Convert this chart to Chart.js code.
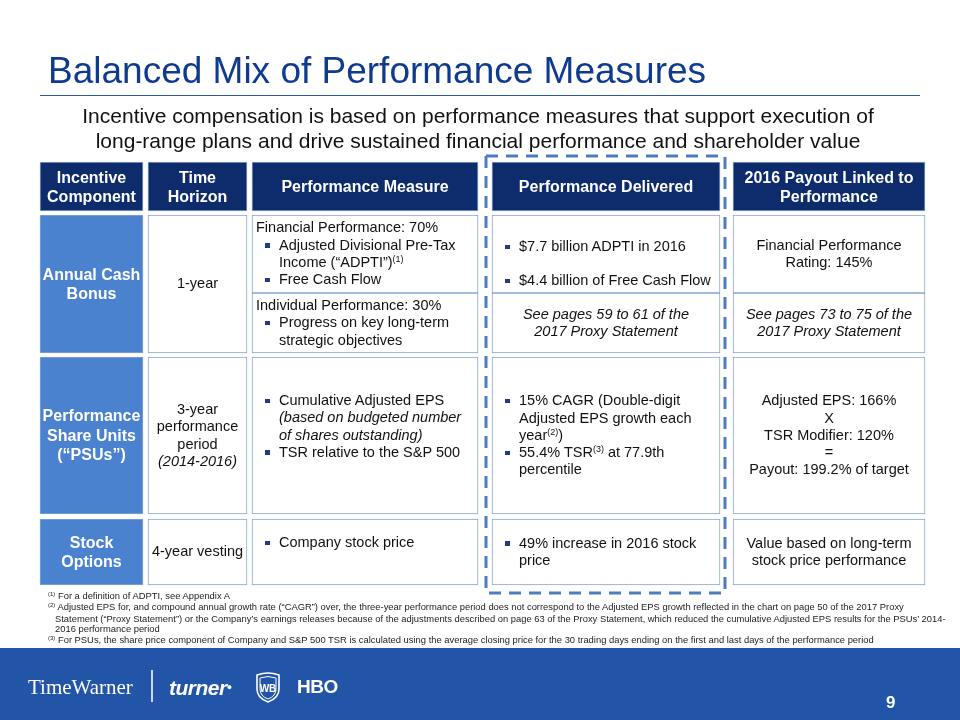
<!DOCTYPE html>
<html>
<head>
<meta charset="utf-8">
<title>Balanced Mix of Performance Measures</title>
<script src="https://cdn.jsdelivr.net/npm/chart.js@4.4.1/dist/chart.umd.min.js"></script>
<style>
  body { margin: 0; background: #fff; }
  #slide { position: relative; width: 960px; height: 720px; overflow: hidden;
           font-family: "Liberation Sans", Arial, Helvetica, sans-serif; color: #111; }
  #tableChart { position: absolute; left: 0; top: 0; }
  #title { position: absolute; left: 48px; top: 52px; font-size: 37px; line-height: 37px; color: #0E3B8F; white-space: nowrap; }
  #rule { position: absolute; left: 40px; top: 95px; width: 880px; height: 1.4px; background: #2B57A0; }
  #subtitle { position: absolute; left: 0; width: 956px; top: 103px; text-align: center; font-size: 21px; line-height: 25px; color: #111; white-space: nowrap; }
  .cell { position: absolute; display: flex; flex-direction: column; justify-content: center; box-sizing: border-box;
          font-size: 14.5px; line-height: 17.3px; }
  .cell.top { justify-content: flex-start; }
  .cell.c { text-align: center; align-items: center; }
  .hdr { color: #fff; font-weight: bold; font-size: 16px; line-height: 19px; }
  .comp { color: #fff; font-weight: bold; font-size: 16px; line-height: 19.5px; }
  .lead { padding-left: 4px; white-space: nowrap; }
  .b { position: relative; padding-left: 27px; white-space: nowrap; }
  .b::before { content: ""; position: absolute; left: 13px; top: 6.5px; width: 4.5px; height: 4.5px; background: #1D3C85; }
  .gap .b + .b { margin-top: 17px; }
  .cell sup { font-size: 9px; line-height: 0; vertical-align: 5px; }
  .fn { position: absolute; font-size: 9.4px; line-height: 11px; color: #222; white-space: nowrap; }
  .fn sup { font-size: 6px; line-height: 0; vertical-align: 3px; }
  #band { position: absolute; left: 0; top: 648px; width: 960px; height: 72px; background: #2254A8; }
  .logo { position: absolute; color: #fff; white-space: nowrap; }
  #page { position: absolute; left: 886px; top: 693px; color: #fff; font-weight: bold; font-size: 17px; line-height: 20px; }
</style>
</head>
<body>
<div id="slide">
  <canvas id="tableChart" width="960" height="720"></canvas>
  <div id="title">Balanced Mix of Performance Measures</div>
  <div id="rule"></div>
  <div id="subtitle">Incentive compensation is based on performance measures that support execution of<br>long-range plans and drive sustained financial performance and shareholder value</div>
  <div id="cells"></div>
  <div id="notes"></div>
  <div id="band"></div>
  <div class="logo" style="left:28px;top:674px;font-family:'Liberation Serif','DejaVu Serif',serif;font-size:21px;line-height:26px;">TimeWarner</div>
  <div class="logo" style="left:151px;top:670px;width:1.5px;height:32px;background:#c9d6ee;"></div>
  <div class="logo" style="left:169px;top:675px;font-weight:bold;font-style:italic;font-size:21px;line-height:24px;letter-spacing:-0.5px;">turner<span style="font-size:9px;vertical-align:5px;">&#9679;</span></div>
  <svg class="logo" style="left:254px;top:672px;" width="28" height="32" viewBox="0 0 28 32">
    <path d="M3 3 Q14 -1 25 3 L25 17 Q25 26 14 30 Q3 26 3 17 Z" fill="none" stroke="#fff" stroke-width="1.6"/>
    <path d="M6 6 Q14 3 22 6 L22 17 Q22 24 14 27 Q6 24 6 17 Z" fill="none" stroke="#fff" stroke-width="1"/>
    <text x="14" y="20" text-anchor="middle" fill="#fff" font-size="10" font-weight="bold" font-family="Liberation Sans, Arial, sans-serif">WB</text>
  </svg>
  <div class="logo" style="left:297px;top:676px;font-weight:bold;font-size:19px;line-height:22px;letter-spacing:-0.5px;">HBO</div>
  <div id="page">9</div>
</div>
<script>
// table text, column by column
const headers = ['Incentive<br>Component', 'Time<br>Horizon', 'Performance Measure', 'Performance Delivered', '2016 Payout Linked to<br>Performance'];
const components = ['Annual Cash<br>Bonus', 'Performance<br>Share Units<br>(“PSUs”)', 'Stock<br>Options'];
const horizons = ['1-year', '3-year<br>performance<br>period<br><i>(2014-2016)</i>', '4-year vesting'];
const measures = [
  { lead: 'Financial Performance: 70%', bullets: ['Adjusted Divisional Pre-Tax<br>Income (“ADPTI”)<sup>(1)</sup>', 'Free Cash Flow'] },
  { lead: 'Individual Performance: 30%', bullets: ['Progress on key long-term<br>strategic objectives'] },
  { bullets: ['Cumulative Adjusted EPS<br><i>(based on budgeted number<br>of shares outstanding)</i>', 'TSR relative to the S&amp;P 500'] },
  { bullets: ['Company stock price'] }
];
const delivered = [
  { bullets: ['$7.7 billion ADPTI in 2016', '$4.4 billion of Free Cash Flow'] },
  { text: '<i>See pages 59 to 61 of the<br>2017 Proxy Statement</i>' },
  { bullets: ['15% CAGR (Double-digit<br>Adjusted EPS growth each<br>year<sup>(2)</sup>)', '55.4% TSR<sup>(3)</sup> at 77.9th<br>percentile'] },
  { bullets: ['49% increase in 2016 stock<br>price'] }
];
const payouts = [
  { text: 'Financial Performance<br>Rating: 145%' },
  { text: '<i>See pages 73 to 75 of the<br>2017 Proxy Statement</i>' },
  { text: 'Adjusted EPS: 166%<br>X<br>TSR Modifier: 120%<br>=<br>Payout: 199.2% of target' },
  { text: 'Value based on long-term<br>stock price performance' }
];
const footnotes = [
  ['<sup>(1)</sup> For a definition of ADPTI, see Appendix A', 0],
  ['<sup>(2)</sup> Adjusted EPS for, and compound annual growth rate (“CAGR”) over, the three-year performance period does not correspond to the Adjusted EPS growth reflected in the chart on page 50 of the 2017 Proxy', 0],
  ['Statement (“Proxy Statement”) or the Company’s earnings releases because of the adjustments described on page 63 of the Proxy Statement, which reduced the cumulative Adjusted EPS results for the PSUs’ 2014-', 1],
  ['2016 performance period', 1],
  ['<sup>(3)</sup> For PSUs, the share price component of Company and S&amp;P 500 TSR is calculated using the average closing price for the 30 trading days ending on the first and last days of the performance period', 0]
];

// layout in page pixels
const cols = [[40, 143], [148, 247], [252, 478], [492, 720], [733, 925]];
const headRow = [162, 211];
const rows = [[215, 353], [357, 514], [519, 585]];
const splitY = 293;
const frame = { left: 486, right: 725, top: 156, bottom: 593 };

const NAVY = '#0E2C6B';
const BLUE = '#4A82CF';
const LINE = '#88A5D1';

function spansFor(i) {
  if (i < 2) return [headRow, rows[0], rows[1], rows[2]];
  return [headRow, [rows[0][0], splitY], [splitY, rows[0][1]], rows[1], rows[2]];
}

let datasets = cols.map(function(c, i) {
  let spans = spansFor(i);
  return {
    type: 'bar',
    data: spans.map(s => ({ x: (c[0] + c[1]) / 2, y: [s[0], s[1]] })),
    barThickness: c[1] - c[0],
    backgroundColor: spans.map((s, k) => k === 0 ? NAVY : (i === 0 ? BLUE : '#ffffff')),
    borderColor: LINE,
    borderWidth: 1,
    borderSkipped: false,
    stack: 'table'
  };
});

// dashed box round the "Performance Delivered" column
datasets.unshift({
  type: 'line',
  data: [
    { x: frame.left, y: frame.top }, { x: frame.right, y: frame.top },
    { x: frame.right, y: frame.bottom }, { x: frame.left, y: frame.bottom },
    { x: frame.left, y: frame.top }
  ],
  borderColor: '#4D7DC1',
  borderWidth: 3,
  borderDash: [12, 8],
  pointRadius: 0,
  fill: false,
  tension: 0
});

new Chart(document.getElementById('tableChart'), {
  type: 'bar',
  data: { datasets: datasets },
  options: {
    responsive: false,
    animation: false,
    events: [],
    layout: { padding: 0 },
    plugins: { legend: { display: false }, tooltip: { enabled: false }, title: { display: false } },
    scales: {
      x: { type: 'linear', min: 0, max: 960, offset: false, display: false },
      y: { type: 'linear', min: 0, max: 720, reverse: true, stacked: false, display: false }
    }
  }
});

// text on top of the cells
let cellsBox = document.getElementById('cells');

function addCell(col, span, html, cls, style) {
  let d = document.createElement('div');
  d.className = 'cell ' + (cls || '');
  d.style.left = col[0] + 'px';
  d.style.width = (col[1] - col[0]) + 'px';
  d.style.top = span[0] + 'px';
  d.style.height = (span[1] - span[0]) + 'px';
  if (style) d.style.cssText += style;
  d.innerHTML = html;
  cellsBox.appendChild(d);
}

function cellHtml(item) {
  if (item.text) return '<div>' + item.text + '</div>';
  let h = '';
  if (item.lead) h += '<div class="lead">' + item.lead + '</div>';
  h += item.bullets.map(b => '<div class="b">' + b + '</div>').join('');
  return h;
}

headers.forEach((h, i) => addCell(cols[i], headRow, '<div>' + h + '</div>', 'c hdr'));
components.forEach((h, r) => addCell(cols[0], rows[r], '<div>' + h + '</div>', 'c comp'));
horizons.forEach((h, r) => addCell(cols[1], rows[r], '<div>' + h + '</div>', 'c'));

let bodySpans = spansFor(2).slice(1);
let tweaks = {
  '2-2': ['top', 'padding-top:35px;'],
  '2-3': ['top', 'padding-top:15px;'],
  '3-0': ['top gap', 'padding-top:23px;']
};
[measures, delivered, payouts].forEach(function(list, j) {
  let ci = j + 2;
  list.forEach(function(item, r) {
    let t = tweaks[ci + '-' + r] || ['', ''];
    let cls = (item.text ? 'c ' : '') + t[0];
    addCell(cols[ci], bodySpans[r], cellHtml(item), cls, t[1]);
  });
});

// footnotes
let notes = document.getElementById('notes');
let noteTops = [590, 601, 613, 623, 634];
footnotes.forEach(function(f, i) {
  let d = document.createElement('div');
  d.className = 'fn';
  d.style.left = (f[1] ? 55 : 48) + 'px';
  d.style.top = noteTops[i] + 'px';
  d.innerHTML = f[0];
  notes.appendChild(d);
});
</script>
</body>
</html>
